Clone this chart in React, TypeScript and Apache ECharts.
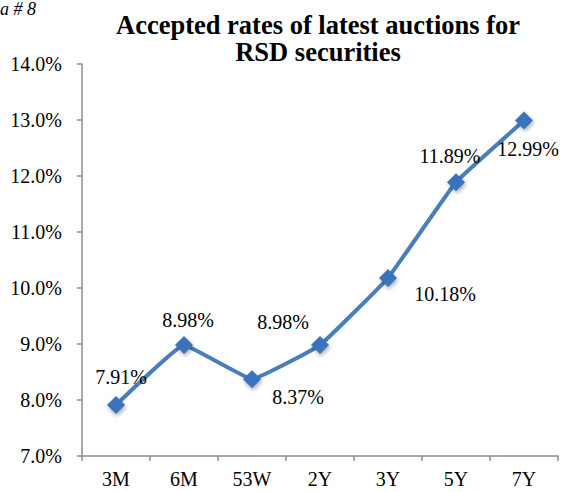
import React, { useEffect, useRef } from "react";
import * as echarts from "echarts";

const categories = ["3M", "6M", "53W", "2Y", "3Y", "5Y", "7Y"];
const rates = [7.91, 8.98, 8.37, 8.98, 10.18, 11.89, 12.99];
const labelOffsets: [number, number][] = [
  [5, -28],
  [4, -25],
  [46, 18],
  [-37, -23],
  [57, 16],
  [-6, -26],
  [4, 28],
];

export default function App() {
  const ref = useRef<HTMLDivElement>(null);
  useEffect(() => {
    if (!ref.current) return;
    const chart = echarts.init(ref.current, undefined, { renderer: "svg" });
    const font = "Liberation Serif";
    chart.setOption({
      animation: false,
      backgroundColor: "#fff",
      textStyle: { fontFamily: font },
      title: {
        text: "Accepted rates of latest auctions for\nRSD securities",
        left: 313,
        top: 6,
        textAlign: "center",
        textStyle: {
          fontFamily: font,
          fontWeight: "bold",
          fontSize: 26.5,
          lineHeight: 27,
          color: "#000",
        },
      },
      graphic: [
        {
          type: "text",
          left: 0,
          top: 0,
          style: {
            text: "a # 8",
            fontFamily: font,
            fontStyle: "italic",
            fontSize: 18,
            fill: "#000",
          },
        },
      ],
      grid: { left: 82, right: 3, top: 64, bottom: 36 },
      xAxis: {
        type: "category",
        data: categories,
        boundaryGap: true,
        axisLine: { lineStyle: { color: "#8c8c8c", width: 1.5 } },
        axisTick: { show: true, length: 5, lineStyle: { color: "#8c8c8c", width: 1.5 } },
        axisLabel: { color: "#000", fontSize: 20, fontFamily: font, margin: 13 },
        splitLine: { show: false },
      },
      yAxis: {
        type: "value",
        min: 7,
        max: 14,
        interval: 1,
        axisLine: { show: true, lineStyle: { color: "#8c8c8c", width: 1.5 } },
        axisTick: { show: true, length: 5, lineStyle: { color: "#8c8c8c", width: 1.5 } },
        axisLabel: {
          color: "#000",
          fontSize: 20,
          fontFamily: font,
          margin: 20,
          formatter: (v: number) => v.toFixed(1) + "%",
        },
        splitLine: { show: false },
      },
      series: [
        {
          type: "line",
          data: rates.map((v, i) => ({
            value: v,
            label: {
              show: true,
              position: "inside",
              offset: labelOffsets[i],
              formatter: v.toFixed(2) + "%",
              color: "#000",
              fontSize: 20,
              fontFamily: font,
            },
          })),
          smooth: 0.08,
          symbol: "diamond",
          symbolSize: 18,
          lineStyle: { color: "#4a7ebb", width: 4 },
          itemStyle: {
            color: "#3a72bc",
            shadowColor: "rgba(0,0,0,0.35)",
            shadowBlur: 4,
            shadowOffsetX: 1,
            shadowOffsetY: 2,
          },
          z: 3,
        },
      ],
    });
    return () => chart.dispose();
  }, []);
  return (
    <div
      ref={ref}
      style={{ position: "fixed", left: 0, top: 0, width: 561, height: 492 }}
    />
  );
}
